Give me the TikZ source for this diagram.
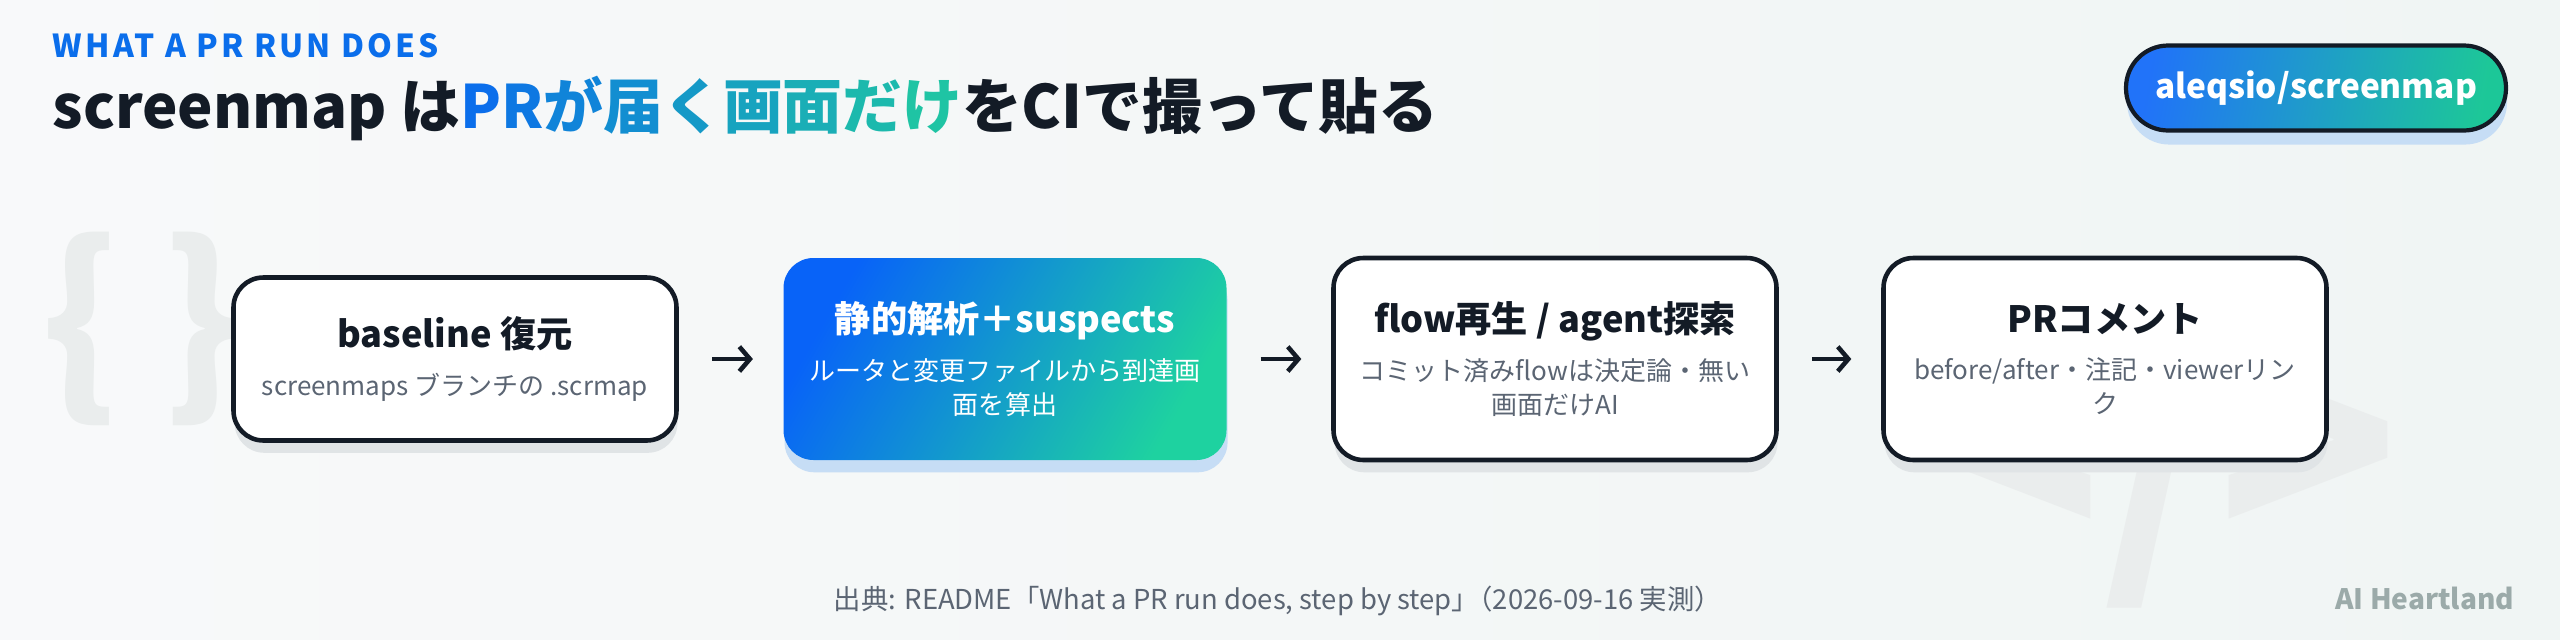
\documentclass[tikz,border=0pt]{standalone}
\usepackage{fontspec}
\setmainfont{Noto Sans CJK JP}
\usetikzlibrary{arrows.meta,shadows}

\definecolor{ink}{HTML}{131B26}
\definecolor{subgray}{HTML}{5B6573}
\definecolor{gradA}{HTML}{0863F8}
\definecolor{gradB}{HTML}{1ED2A0}
\definecolor{titleA}{HTML}{0B6EEB}
\definecolor{titleB}{HTML}{1FC4A4}
\definecolor{shadowgray}{HTML}{E0E4E6}
\definecolor{shadowblue}{HTML}{C6DDF5}
\definecolor{bgleft}{HTML}{F8F9FA}
\definecolor{bgright}{HTML}{F0F5F4}
\definecolor{ghost}{HTML}{EAEDED}
\definecolor{brandgray}{HTML}{9BAAA9}

\newcommand\steptitle[1]{{\fontsize{10.3}{12}\selectfont\bfseries #1}}

\begin{document}
\begin{tikzpicture}[
  x=0.1mm, y=-0.1mm,
  card/.style={
    rectangle, rounded corners=8.5pt, align=center,
    minimum width=4.43cm, minimum height=2.02cm,
    font=\fontsize{7.4}{9.6}\selectfont
  },
  plain/.style={card, draw=ink, line width=1.3pt, fill=white, text=subgray,
    drop shadow={shadow xshift=0.3pt, shadow yshift=-3.5pt, fill=shadowgray, opacity=1}},
  hot/.style={card, left color=gradA, right color=gradB, shading angle=60, text=white,
    drop shadow={shadow xshift=0.3pt, shadow yshift=-3.5pt, fill=shadowblue, opacity=1}},
  badge/.style={
    rectangle, rounded corners=12pt, draw=ink, line width=1.2pt,
    left color=gradA!90!white, right color=gradB!95!black, shading angle=80,
    minimum width=3.8cm, minimum height=0.85cm, text=white,
    font=\fontsize{9.5}{11}\selectfont\bfseries,
    drop shadow={shadow xshift=0.3pt, shadow yshift=-4pt, fill=shadowblue, opacity=1}
  },
  arrow/.style={-{Straight Barb[length=3pt,width=7pt]}, ink, line width=1.3pt,
    shorten <=9.5pt, shorten >=8.5pt},
  ghosttext/.style={text=ghost, inner sep=0},
]

% Background
\useasboundingbox (0,0) rectangle (2560,640);
\fill[left color=bgleft, right color=bgright] (0,0) rectangle (2560,640);

% Faint code glyphs behind the cards
\node[ghosttext, font=\fontsize{56}{56}\selectfont\bfseries] (braces) at (141,329) {\{\hspace{12pt}\}};
\node[ghosttext, anchor=base, font=\fontsize{85}{85}\selectfont\bfseries] (tag) at (2160,553) {</>};

% Heading
\node[anchor=west, inner sep=0, text=titleA,
  font=\fontsize{9}{10}\selectfont\bfseries\addfontfeature{LetterSpace=10}] (kicker) at (52,46)
  {WHAT A PR RUN DOES};
\node[anchor=west, inner sep=0, text=ink, font=\fontsize{17}{20}\selectfont\bfseries] (title) at (52,108)
  {screenmap は\textcolor{titleA}{P}\textcolor{titleB!12!titleA}{R}\textcolor{titleB!25!titleA}{が}%
   \textcolor{titleB!37!titleA}{届}\textcolor{titleB!50!titleA}{く}\textcolor{titleB!62!titleA}{画}%
   \textcolor{titleB!75!titleA}{面}\textcolor{titleB!87!titleA}{だ}\textcolor{titleB}{け}をCIで撮って貼る};

\node[badge] (repo) at (2316,88) {aleqsio/screenmap};

% Pipeline steps
\node[plain, minimum height=1.63cm] (base) at (455,359)
  {\steptitle{\color{ink}baseline 復元}\\[4pt]screenmaps ブランチの .scrmap};
\node[hot] (stat) at (1005,359)
  {\steptitle{静的解析＋suspects}\\[4pt]ルータと変更ファイルから到達画\\面を算出};
\node[plain] (flow) at (1555,359)
  {\steptitle{\color{ink}flow再生 / agent探索}\\[4pt]コミット済みflowは決定論・無い\\画面だけAI};
\node[plain] (prc) at (2105,359)
  {\steptitle{\color{ink}PRコメント}\\[4pt]before/after・注記・viewerリン\\ク};

\foreach \a/\b in {base/stat, stat/flow, flow/prc}
  \draw[arrow] (\a) -- (\b);

% Footer
\node[inner sep=0, text=subgray, font=\fontsize{7.8}{9}\selectfont] (source) at (1278,601)
  {出典: README「What a PR run does, step by step」\hspace{-0.5em}（2026-09-16 実測）};
\node[anchor=east, inner sep=0, text=brandgray, font=\fontsize{8}{9}\selectfont\bfseries] (brand) at (2515,598)
  {AI Heartland};

\end{tikzpicture}
\end{document}
